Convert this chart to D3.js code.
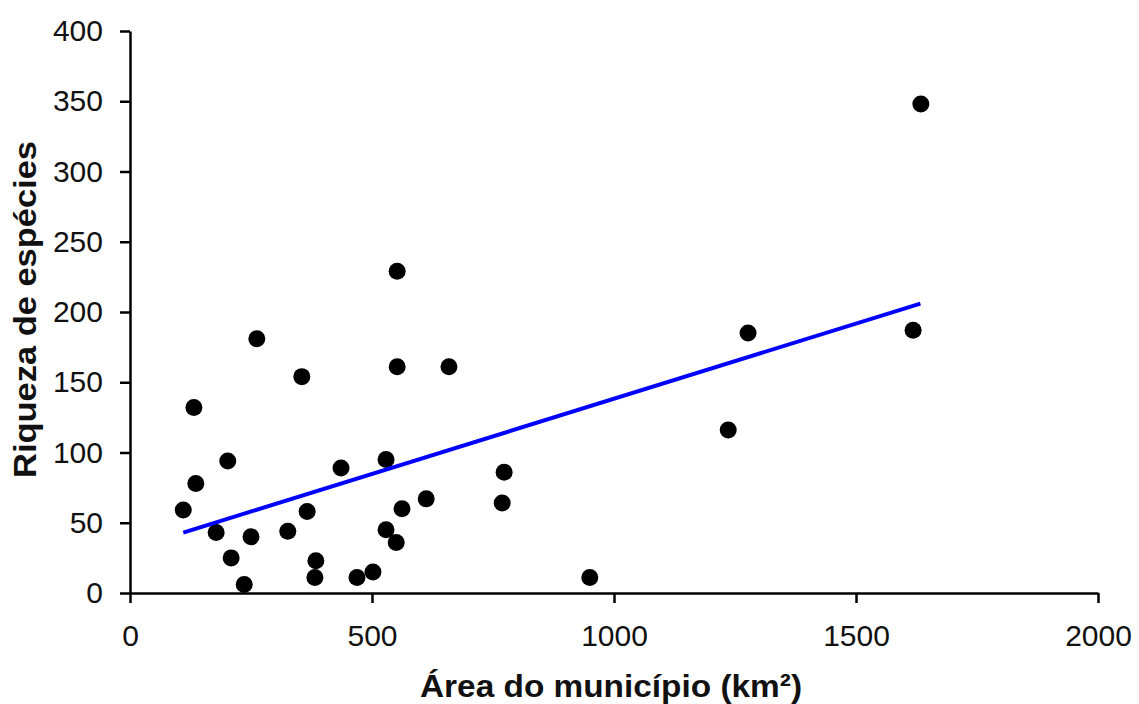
<!DOCTYPE html>
<html>
<head>
<meta charset="utf-8">
<script src="https://cdn.jsdelivr.net/npm/d3@7"></script>
<style>
  body { margin: 0; background: #fff; }
  text { font-family: "Liberation Sans", Arial, sans-serif; }
</style>
</head>
<body>
<div id="chart"></div>
<script>
// Data
const areaKm2 = [110, 132, 136, 178, 202, 209, 236, 250, 262, 326, 355, 366, 384, 382,
    436, 469, 502, 529, 529, 550, 552, 552, 562, 612, 659, 773, 769, 950, 1236, 1277, 1618, 1634];
const riqueza = [59, 132, 78, 43, 94, 25, 6, 40, 181, 44, 154, 58, 23, 11,
    89, 11, 15, 95, 45, 36, 229, 161, 60, 67, 161, 86, 64, 11, 116, 185, 187, 348];

// Trend line end points
const trendX = [110, 1633];
const trendY = [43, 206];

const xTicks = [0, 500, 1000, 1500, 2000];
const yTicks = [0, 50, 100, 150, 200, 250, 300, 350, 400];

// Set chart dimensions
const margin = { top: 31, right: 41, bottom: 111, left: 130 },
    width = 1139 - margin.left - margin.right,
    height = 704 - margin.top - margin.bottom;

const svg = d3.select("#chart")
    .append("svg")
    .attr("width", width + margin.left + margin.right)
    .attr("height", height + margin.top + margin.bottom)
    .append("g")
    .attr("transform", "translate(" + margin.left + "," + margin.top + ")");

const x = d3.scaleLinear().domain([0, 2000]).range([0, width]);
const y = d3.scaleLinear().domain([0, 400]).range([height, 0]);

// Axes
const xAxis = svg.append("g")
    .attr("transform", `translate(0, ${height})`)
    .call(d3.axisBottom(x).tickValues(xTicks).tickFormat(d3.format("d"))
        .tickSize(10).tickPadding(22).tickSizeOuter(0));

const yAxis = svg.append("g")
    .call(d3.axisLeft(y).tickValues(yTicks).tickFormat(d3.format("d"))
        .tickSize(10).tickPadding(17).tickSizeOuter(0));

[xAxis, yAxis].forEach(a => {
    a.select(".domain").attr("stroke", "#000").attr("stroke-width", 2.5);
    a.selectAll(".tick line").attr("stroke", "#000").attr("stroke-width", 2.5);
    a.selectAll(".tick text")
        .attr("fill", "#111")
        .style("font-size", "30px")
        .style("font-family", "'Liberation Sans', Arial, sans-serif");
});

// Points
const points = areaKm2.map((a, i) => ({ a: a, r: riqueza[i] }));
svg.selectAll(".dot")
    .data(points)
    .enter().append("circle")
    .attr("class", "dot")
    .attr("cx", d => x(d.a))
    .attr("cy", d => y(d.r))
    .attr("r", 8.5)
    .attr("fill", "#000");

// Trend line
const line = d3.line()
    .x(d => x(d[0]))
    .y(d => y(d[1]));

svg.append("path")
    .datum(trendX.map((v, i) => [v, trendY[i]]))
    .attr("d", line)
    .attr("fill", "none")
    .attr("stroke", "#0000ff")
    .attr("stroke-width", 4);

// Axis titles
svg.append("text")
    .attr("x", 593 - margin.left)
    .attr("y", 697 - margin.top)
    .attr("textLength", 382)
    .attr("lengthAdjust", "spacingAndGlyphs")
    .style("font-size", "32px")
    .style("font-weight", "bold")
    .attr("fill", "#111")
    .text("Área do município (km²)")
    .attr("x", 420 - margin.left);

svg.append("text")
    .attr("transform", `translate(${36 - margin.left}, ${478 - margin.top}) rotate(-90)`)
    .attr("textLength", 337)
    .attr("lengthAdjust", "spacingAndGlyphs")
    .style("font-size", "32px")
    .style("font-weight", "bold")
    .attr("fill", "#111")
    .text("Riqueza de espécies");
</script>
</body>
</html>
